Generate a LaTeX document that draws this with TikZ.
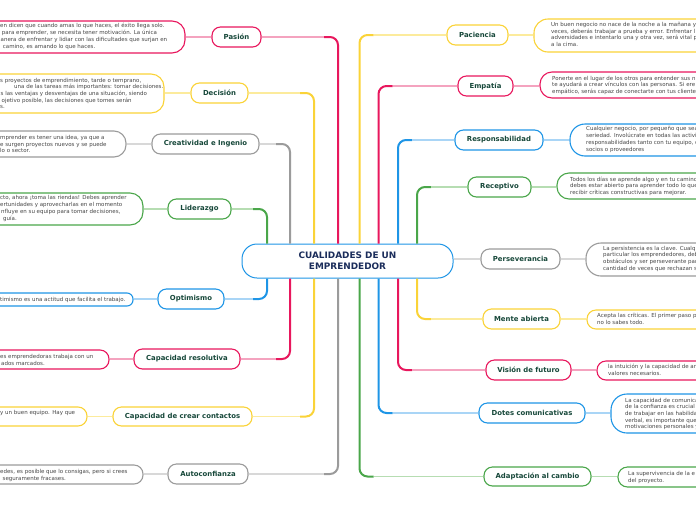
\documentclass[tikz,border=0pt]{standalone}
\usepackage{fontspec}
\setmainfont{DejaVu Sans}
\usetikzlibrary{calc}
\definecolor{pinkD}{HTML}{E8175D}
\definecolor{pinkL}{HTML}{F4A3BF}
\definecolor{yelD}{HTML}{FAD338}
\definecolor{yelL}{HTML}{FCEB9C}
\definecolor{grayD}{HTML}{9B9B9B}
\definecolor{grayL}{HTML}{D8D8D8}
\definecolor{greenD}{HTML}{4AA64A}
\definecolor{greenL}{HTML}{B6DDB2}
\definecolor{blueD}{HTML}{1E95E6}
\definecolor{blueL}{HTML}{A9D5F6}
\definecolor{topictxt}{HTML}{17483A}
\definecolor{dettxt}{HTML}{474747}
\definecolor{centxt}{HTML}{1B2D5B}
\newcommand\dtfont{\fontsize{5.5}{6.7}\selectfont}
\newcommand\tpfont{\fontsize{6.9}{8}\selectfont\bfseries}
\newcommand\cnfont{\fontsize{8.9}{11.2}\selectfont\bfseries}
\tikzset{
  topic/.style={draw=#1, line width=1.1pt, fill=white, rounded corners=8.5pt, minimum height=20pt, inner sep=0pt, font=\tpfont, text=topictxt},
  dbox/.style={draw=#1, line width=1.1pt, fill=white, inner sep=0pt},
  dtext/.style={font=\dtfont, text=dettxt, align=left, inner sep=0pt, anchor=west},
  hline/.style={line width=1.3pt, draw=#1},
  vline/.style={line width=2pt, draw=#1, rounded corners=8pt},
}
\begin{document}
\begin{tikzpicture}[x=1pt,y=-1pt]
\useasboundingbox (0,0) rectangle (696,520);

% central
\node[draw=blueD, line width=1pt, fill=white, rounded corners=15pt, minimum width=211pt, minimum height=34pt, inner sep=0pt, font=\cnfont, text=centxt, align=center] (cen) at (347.5,261) {CUALIDADES DE UN\\EMPRENDEDOR};

% x positions of trunks
\coordinate (xA) at (267,0);
\coordinate (xB) at (290,0);
\coordinate (xC) at (314,0);
\coordinate (xD) at (338,0);
\coordinate (xE) at (359.5,0);
\coordinate (xF) at (378.5,0);
\coordinate (xG) at (398,0);
\coordinate (xH) at (417,0);

% ---------- left topics
\node[topic=pinkD, minimum width=49pt] (pas) at (236.5,37) {Pasión};
\node[topic=yelD, minimum width=57pt] (dec) at (219.5,93) {Decisión};
\node[topic=grayD, minimum width=107pt] (cre) at (205.5,144) {Creatividad e Ingenio};
\node[topic=greenD, minimum width=63pt] (lid) at (199.5,209) {Liderazgo};
\node[topic=blueD, minimum width=66pt] (opt) at (191,299) {Optimismo};
\node[topic=pinkD, minimum width=106pt] (res) at (187,359) {Capacidad resolutiva};
\node[topic=yelD, minimum width=139pt, minimum height=19pt] (con) at (182.5,416.5) {Capacidad de crear contactos};
\node[topic=grayD, minimum width=80pt] (aut) at (208,474) {Autoconfianza};

% ---------- left detail boxes
\node[dbox=pinkD, rounded corners=13pt, minimum width=215pt, minimum height=32pt] (pasD) at (77.5,37) {};
\node[dbox=yelD, rounded corners=13pt, minimum width=194pt, minimum height=39pt] (decD) at (67,93.5) {};
\node[dbox=grayD, rounded corners=12pt, minimum width=156pt, minimum height=26pt] (creD) at (48,144) {};
\node[dbox=greenD, rounded corners=13pt, minimum width=173pt, minimum height=32pt] (lidD) at (56.5,209) {};
\node[dbox=blueD, rounded corners=6pt, minimum width=163pt, minimum height=13pt] (optD) at (51.5,299.5) {};
\node[dbox=pinkD, rounded corners=9pt, minimum width=139pt, minimum height=19pt] (resD) at (39.5,359.5) {};
\node[dbox=yelD, rounded corners=9pt, minimum width=117pt, minimum height=19pt] (conD) at (28.5,416.5) {};
\node[dbox=grayD, rounded corners=9pt, minimum width=173pt, minimum height=19pt] (autD) at (56.5,474.5) {};

\node[dtext] (pasT) at (0,36.7) {\strut en dicen que cuando amas lo que haces, el éxito llega solo.\\\strut\hspace*{1.7pt}para emprender, se necesita tener motivación. La única\\\strut\hspace*{0.5pt}anera de enfrentar y lidiar con las dificultades que surjan en\\\strut\hspace*{2.7pt}camino, es amando lo que haces.};
\node[dtext] (decT) at (0,94.2) {\strut s proyectos de emprendimiento, tarde o temprano,\\\strut\hspace*{14pt}una de las tareas más importantes: tomar decisiones.\\\strut\hspace*{0.5pt}s las ventajas y desventajas de una situación, siendo\\\strut\hspace*{1.5pt}ojetivo posible, las decisiones que tomes serán\\\strut s.};
\node[dtext] (creT) at (0,144.7) {\strut mprender es tener una idea, ya que a\\\strut e surgen proyectos nuevos y se puede\\\strut lo o sector.};
\node[dtext] (lidT) at (0,208.7) {\strut cto, ahora ¡toma las riendas! Debes aprender\\\strut ertunidades y aprovecharlas en el momento\\\strut\hspace*{1pt}nfluye en su equipo para tomar decisiones,\\\strut\hspace*{3pt}guía.};
\node[dtext] (optT) at (0,300.2) {\strut timismo es una actitud que facilita el trabajo.};
\node[dtext] (resT) at (0,360.5) {\strut es emprendedoras trabaja con un\\\strut\hspace*{1pt}ados marcados.};
\node[dtext] (conT) at (0,413.2) {\strut y un buen equipo. Hay que};
\node[dtext] (autT) at (0,475.5) {\strut edes, es posible que lo consigas, pero si crees\\\strut\hspace*{2.5pt}seguramente fracases.};

% ---------- right topics
\node[topic=yelD, minimum width=61pt] (pac) at (477.5,35) {Paciencia};
\node[topic=pinkD, minimum width=55pt] (emp) at (485.5,86) {Empatía};
\node[topic=blueD, minimum width=88pt] (rsp) at (499,140) {Responsabilidad};
\node[topic=greenD, minimum width=63pt] (rec) at (499.5,187) {Receptivo};
\node[topic=grayD, minimum width=79pt] (per) at (520.5,259) {Perseverancia};
\node[topic=yelD, minimum width=77pt] (men) at (521.5,319) {Mente abierta};
\node[topic=pinkD, minimum width=85pt] (vis) at (528.5,370) {Visión de futuro};
\node[topic=blueD, minimum width=106pt] (dot) at (532,413) {Dotes comunicativas};
\node[topic=greenD, minimum width=107pt, minimum height=19pt] (ada) at (537.5,476.5) {Adaptación al cambio};

% ---------- right detail boxes
\node[dbox=yelD, rounded corners=14pt, minimum width=196pt, minimum height=33pt] (pacD) at (632,35.5) {};
\node[dbox=pinkD, rounded corners=12pt, minimum width=190pt, minimum height=26pt] (empD) at (635,85) {};
\node[dbox=blueD, rounded corners=15pt, minimum width=160pt, minimum height=32pt] (rspD) at (650,140) {};
\node[dbox=greenD, rounded corners=12pt, minimum width=173pt, minimum height=26pt] (recD) at (643.5,186) {};
\node[dbox=grayD, rounded corners=15pt, minimum width=144pt, minimum height=33pt] (perD) at (658,259.5) {};
\node[dbox=yelD, rounded corners=9pt, minimum width=143pt, minimum height=19pt] (menD) at (658.5,319.5) {};
\node[dbox=pinkD, rounded corners=9pt, minimum width=133pt, minimum height=19pt] (visD) at (663.5,370.5) {};
\node[dbox=blueD, rounded corners=16pt, minimum width=119pt, minimum height=39pt] (dotD) at (670.5,413.5) {};
\node[dbox=greenD, rounded corners=9.5pt, minimum width=112pt, minimum height=20pt] (adaD) at (674,477) {};

\node[dtext] (pacT) at (551,35.2) {\strut Un buen negocio no nace de la noche a la mañana y\\\strut veces, deberás trabajar a prueba y error. Enfrentar l\\\strut adversidades e intentarlo una y otra vez, será vital p\\\strut a la cima.};
\node[dtext] (empT) at (552,85.5) {\strut Ponerte en el lugar de los otros para entender sus n\\\strut te ayudará a crear vínculos con las personas. Si ere\\\strut empático, serás capaz de conectarte con tus cliente};
\node[dtext] (rspT) at (586,139.7) {\strut Cualquier negocio, por pequeño que sea\\\strut seriedad. Involúcrate en todas las activi\\\strut responsabilidades tanto con tu equipo, c\\\strut socios o proveedores};
\node[dtext] (recT) at (570,186.5) {\strut Todos los días se aprende algo y en tu camino\\\strut debes estar abierto para aprender todo lo que\\\strut recibir críticas constructivas para mejorar.};
\node[dtext] (perT) at (603,259) {\strut La persistencia es la clave. Cualq\\\strut particular los emprendedores, deb\\\strut obstáculos y ser perseverante par\\\strut cantidad de veces que rechazan s};
\node[dtext] (menT) at (597,319.5) {\strut Acepta las críticas. El primer paso p\\\strut no lo sabes todo.};
\node[dtext] (visT) at (608,370.5) {\strut la intuición y la capacidad de an\\\strut valores necesarios.};
\node[dtext] (dotT) at (625,414.2) {\strut La capacidad de comunica\\\strut de la confianza es crucial\\\strut de trabajar en las habilida\\\strut verbal, es importante que\\\strut motivaciones personales y};
\node[dtext] (adaT) at (628,477.5) {\strut La supervivencia de la e\\\strut del proyecto.};

% ---------- trunks, left top
\draw[hline=pinkL] (pas.east) -- ($(pas.east -| xD)+(-14,0)$);
\draw[vline=pinkD] ($(pas.east -| xD)+(-14,0)$) -- (pas.east -| xD) -- (cen.north -| xD);
\draw[hline=yelL] (dec.east) -- ($(dec.east -| xC)+(-14,0)$);
\draw[vline=yelD] ($(dec.east -| xC)+(-14,0)$) -- (dec.east -| xC) -- (cen.north -| xC);
\draw[hline=grayL] (cre.east) -- ($(cre.east -| xB)+(-14,0)$);
\draw[vline=grayD] ($(cre.east -| xB)+(-14,0)$) -- (cre.east -| xB) -- (cen.north -| xB);
\draw[hline=greenL] (lid.east) -- ($(lid.east -| xA)+(-14,0)$);
\draw[vline=greenD] ($(lid.east -| xA)+(-14,0)$) -- (lid.east -| xA) -- (cen.north -| xA);
% left bottom
\draw[vline=blueD] (cen.south -| xA) -- (opt.east -| xA) -- ($(opt.east -| xA)+(-14,0)$);
\draw[hline=blueL] ($(opt.east -| xA)+(-14,0)$) -- (opt.east);
\draw[vline=pinkD] (cen.south -| xB) -- (res.east -| xB) -- ($(res.east -| xB)+(-14,0)$);
\draw[hline=pinkL] ($(res.east -| xB)+(-14,0)$) -- (res.east);
\draw[vline=yelD] (cen.south -| xC) -- (con.east -| xC) -- ($(con.east -| xC)+(-14,0)$);
\draw[hline=yelL] ($(con.east -| xC)+(-14,0)$) -- (con.east);
\draw[vline=grayD] (cen.south -| xD) -- (aut.east -| xD) -- ($(aut.east -| xD)+(-14,0)$);
\draw[hline=grayL] ($(aut.east -| xD)+(-14,0)$) -- (aut.east);
% right top
\draw[vline=yelD] (cen.north -| xE) -- (pac.west -| xE) -- ($(pac.west -| xE)+(14,0)$);
\draw[hline=yelL] ($(pac.west -| xE)+(14,0)$) -- (pac.west);
\draw[vline=pinkD] (cen.north -| xF) -- (emp.west -| xF) -- ($(emp.west -| xF)+(14,0)$);
\draw[hline=pinkL] ($(emp.west -| xF)+(14,0)$) -- (emp.west);
\draw[vline=blueD] (cen.north -| xG) -- (rsp.west -| xG) -- ($(rsp.west -| xG)+(14,0)$);
\draw[hline=blueL] ($(rsp.west -| xG)+(14,0)$) -- (rsp.west);
\draw[vline=greenD] (cen.north -| xH) -- (rec.west -| xH) -- ($(rec.west -| xH)+(14,0)$);
\draw[hline=greenL] ($(rec.west -| xH)+(14,0)$) -- (rec.west);
% right middle
\draw[hline=grayL] (cen.east |- per.west) -- (per.west);
% right bottom
\draw[vline=yelD] (cen.south -| xH) -- (men.west -| xH) -- ($(men.west -| xH)+(14,0)$);
\draw[hline=yelL] ($(men.west -| xH)+(14,0)$) -- (men.west);
\draw[vline=pinkD] (cen.south -| xG) -- (vis.west -| xG) -- ($(vis.west -| xG)+(14,0)$);
\draw[hline=pinkL] ($(vis.west -| xG)+(14,0)$) -- (vis.west);
\draw[vline=blueD] (cen.south -| xF) -- (dot.west -| xF) -- ($(dot.west -| xF)+(14,0)$);
\draw[hline=blueL] ($(dot.west -| xF)+(14,0)$) -- (dot.west);
\draw[vline=greenD] (cen.south -| xE) -- (ada.west -| xE) -- ($(ada.west -| xE)+(14,0)$);
\draw[hline=greenL] ($(ada.west -| xE)+(14,0)$) -- (ada.west);

% ---------- detail links
\draw[hline=pinkL] (pasD.east |- pas.west) -- (pas.west);
\draw[hline=yelL] (decD.east |- dec.west) -- (dec.west);
\draw[hline=grayL] (creD.east |- cre.west) -- (cre.west);
\draw[hline=greenL] (lidD.east |- lid.west) -- (lid.west);
\draw[hline=blueL] (optD.east |- opt.west) -- (opt.west);
\draw[hline=pinkL] (resD.east |- res.west) -- (res.west);
\draw[hline=yelL] (conD.east |- con.west) -- (con.west);
\draw[hline=grayL] (autD.east |- aut.west) -- (aut.west);
\draw[hline=yelL] (pac.east) -- (pacD.west |- pac.east);
\draw[hline=pinkL] (emp.east) -- (empD.west |- emp.east);
\draw[hline=blueL] (rsp.east) -- (rspD.west |- rsp.east);
\draw[hline=greenL] (rec.east) -- (recD.west |- rec.east);
\draw[hline=grayL] (per.east) -- (perD.west |- per.east);
\draw[hline=yelL] (men.east) -- (menD.west |- men.east);
\draw[hline=pinkL] (vis.east) -- (visD.west |- vis.east);
\draw[hline=blueL] (dot.east) -- (dotD.west |- dot.east);
\draw[hline=greenL] (ada.east) -- (adaD.west |- ada.east);
\end{tikzpicture}
\end{document}
